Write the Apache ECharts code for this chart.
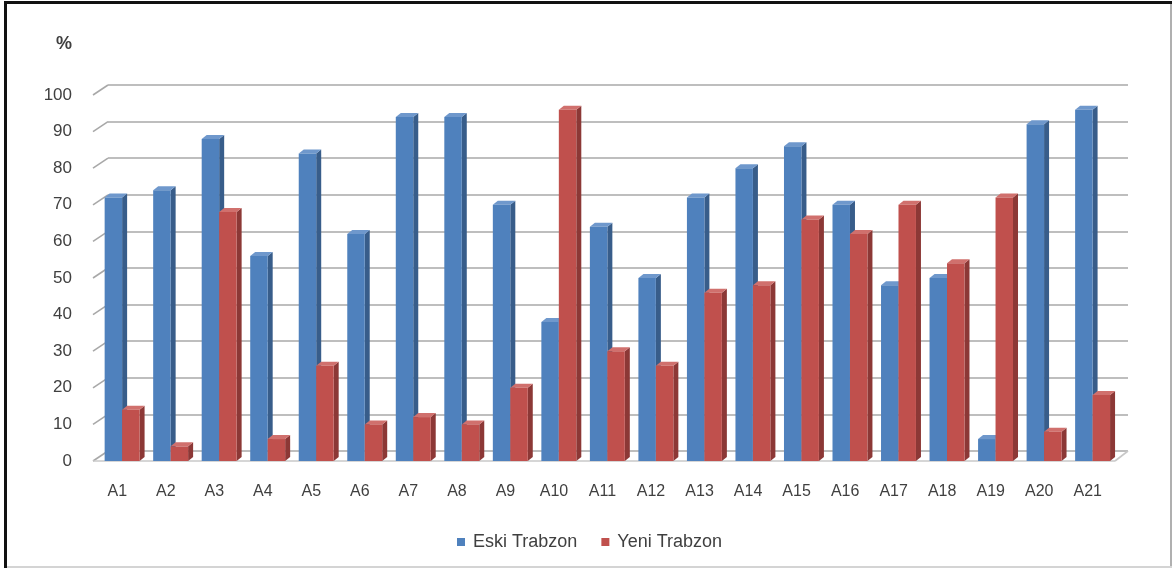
<!DOCTYPE html>
<html>
<head>
<meta charset="utf-8">
<script src="https://cdn.jsdelivr.net/npm/echarts@6/dist/echarts.min.js"></script>
<style>
html,body{margin:0;padding:0;background:#fff;}
#c{width:1175px;height:569px;}
</style>
</head>
<body>
<div id="c"></div>
<script>
const categories = ['A1','A2','A3','A4','A5','A6','A7','A8','A9','A10','A11','A12','A13','A14','A15','A16','A17','A18','A19','A20','A21'];
const eskiTrabzon = [72,74,88,56,84,62,94,94,70,38,64,50,72,80,86,70,48,50,6,92,96];
const yeniTrabzon = [14,4,68,6,26,10,12,10,20,96,30,26,46,48,66,62,70,54,72,8,18];
const yTicks = [0,10,20,30,40,50,60,70,80,90,100];
const seriesNames = ['Eski Trabzon','Yeni Trabzon'];

const FONT = '"Liberation Sans", Arial, sans-serif';
const TXT = '#404040';
const GRID_C = '#a8a8a8';
const DX = 15, DY = -10; // wall depth
const BDX = 5, BDY = -4; // bar depth

const palette = [
  {front:'#4f81bd', side:'#385d8a', top:'#6f98cc'},
  {front:'#c0504d', side:'#8c3836', top:'#d0706d'}
];

function barRender(k){
  return function(params, api){
    const i = api.value(0), v = api.value(1);
    const top = api.coord([i, v]);
    const base = api.coord([i, 0]);
    const band = api.size([1, 0])[0];
    const w = band * 0.36;
    const cx = top[0] + band * 0.1;
    const x0 = k === 0 ? cx - w : cx;
    const c = palette[k];
    const yt = top[1], yb = base[1];
    return {
      type:'group',
      children:[
        {type:'polygon', shape:{points:[[x0+w,yt],[x0+w+BDX,yt+BDY],[x0+w+BDX,yb+BDY],[x0+w,yb]]}, style:{fill:c.side}},
        {type:'polygon', shape:{points:[[x0,yt],[x0+BDX,yt+BDY],[x0+w+BDX,yt+BDY],[x0+w,yt]]}, style:{fill:c.top}},
        {type:'rect', shape:{x:x0, y:yt, width:w, height:yb-yt}, style:{fill:c.front}}
      ]
    };
  };
}

const chart = echarts.init(document.getElementById('c'), null, {renderer:'canvas'});
const option = {
  backgroundColor:'#fff',
  animation:false,
  grid:[
    {left:93, right:63, top:95, bottom:108},
    {left:108, right:47, top:85, bottom:118}
  ],
  xAxis:[
    {type:'category', gridIndex:0, data:categories,
     axisLine:{show:false}, axisTick:{show:false},
     axisLabel:{color:TXT, fontSize:16, fontFamily:FONT, margin:23}},
    {type:'category', gridIndex:1, data:categories, show:false}
  ],
  yAxis:[
    {type:'value', gridIndex:0, min:0, max:100, interval:10,
     axisLine:{show:false}, axisTick:{show:false}, splitLine:{show:false},
     axisLabel:{color:TXT, fontSize:17, fontFamily:FONT, margin:21, padding:[4,0,0,0]}},
    {type:'value', gridIndex:1, min:0, max:100, interval:10,
     axisLine:{show:false}, axisTick:{show:false}, axisLabel:{show:false},
     splitLine:{show:true, lineStyle:{color:GRID_C, width:1.6}}}
  ],
  legend:{
    data:seriesNames, top:528, left:452, icon:'rect', itemWidth:8, itemHeight:8, itemGap:24,
    textStyle:{color:TXT, fontSize:18, fontFamily:FONT, padding:[0,0,0,3]}
  },
  graphic:[
    {type:'text', left:56, top:35, style:{text:'%', fill:TXT, font:'bold 18px '+FONT}},
    {type:'rect', shape:{x:4, y:1, width:1168, height:3}, style:{fill:'#111'}, silent:true},
    {type:'rect', shape:{x:4, y:1, width:3, height:567}, style:{fill:'#111'}, silent:true},
    {type:'rect', shape:{x:1170, y:4, width:2, height:564}, style:{fill:'#b0b0b0'}, silent:true},
    {type:'rect', shape:{x:7, y:566, width:1165, height:2}, style:{fill:'#d4d4d4'}, silent:true}
  ],
  series:[
    {type:'custom', name:'ticks', xAxisIndex:0, yAxisIndex:0, silent:true,
     data:yTicks.map(v=>[0,v]),
     renderItem:function(params, api){
       const cs = params.coordSys;
       const y = api.coord([0, api.value(1)])[1];
       return {type:'line', shape:{x1:cs.x, y1:y, x2:cs.x+DX, y2:y+DY}, style:{stroke:GRID_C, lineWidth:1.6}};
     }},
    {type:'custom', name:'floor', xAxisIndex:0, yAxisIndex:0, silent:true,
     data:[[0,0]],
     renderItem:function(params, api){
       const cs = params.coordSys;
       const y = api.coord([0, 0])[1];
       const xr = cs.x + cs.width + 3;
       return {type:'group', children:[
         {type:'line', shape:{x1:cs.x, y1:y, x2:xr, y2:y}, style:{stroke:'#c8c8c8', lineWidth:1.6}},
         {type:'line', shape:{x1:xr, y1:y, x2:xr+DX-2, y2:y+DY}, style:{stroke:'#c8c8c8', lineWidth:1.6}}
       ]};
     }},
    {type:'custom', name:seriesNames[0], xAxisIndex:0, yAxisIndex:0,
     itemStyle:{color:palette[0].front},
     data:eskiTrabzon.map((v,i)=>[i,v]), renderItem:barRender(0)},
    {type:'custom', name:seriesNames[1], xAxisIndex:0, yAxisIndex:0,
     itemStyle:{color:palette[1].front},
     data:yeniTrabzon.map((v,i)=>[i,v]), renderItem:barRender(1)}
  ]
};
chart.setOption(option);
</script>
</body>
</html>
